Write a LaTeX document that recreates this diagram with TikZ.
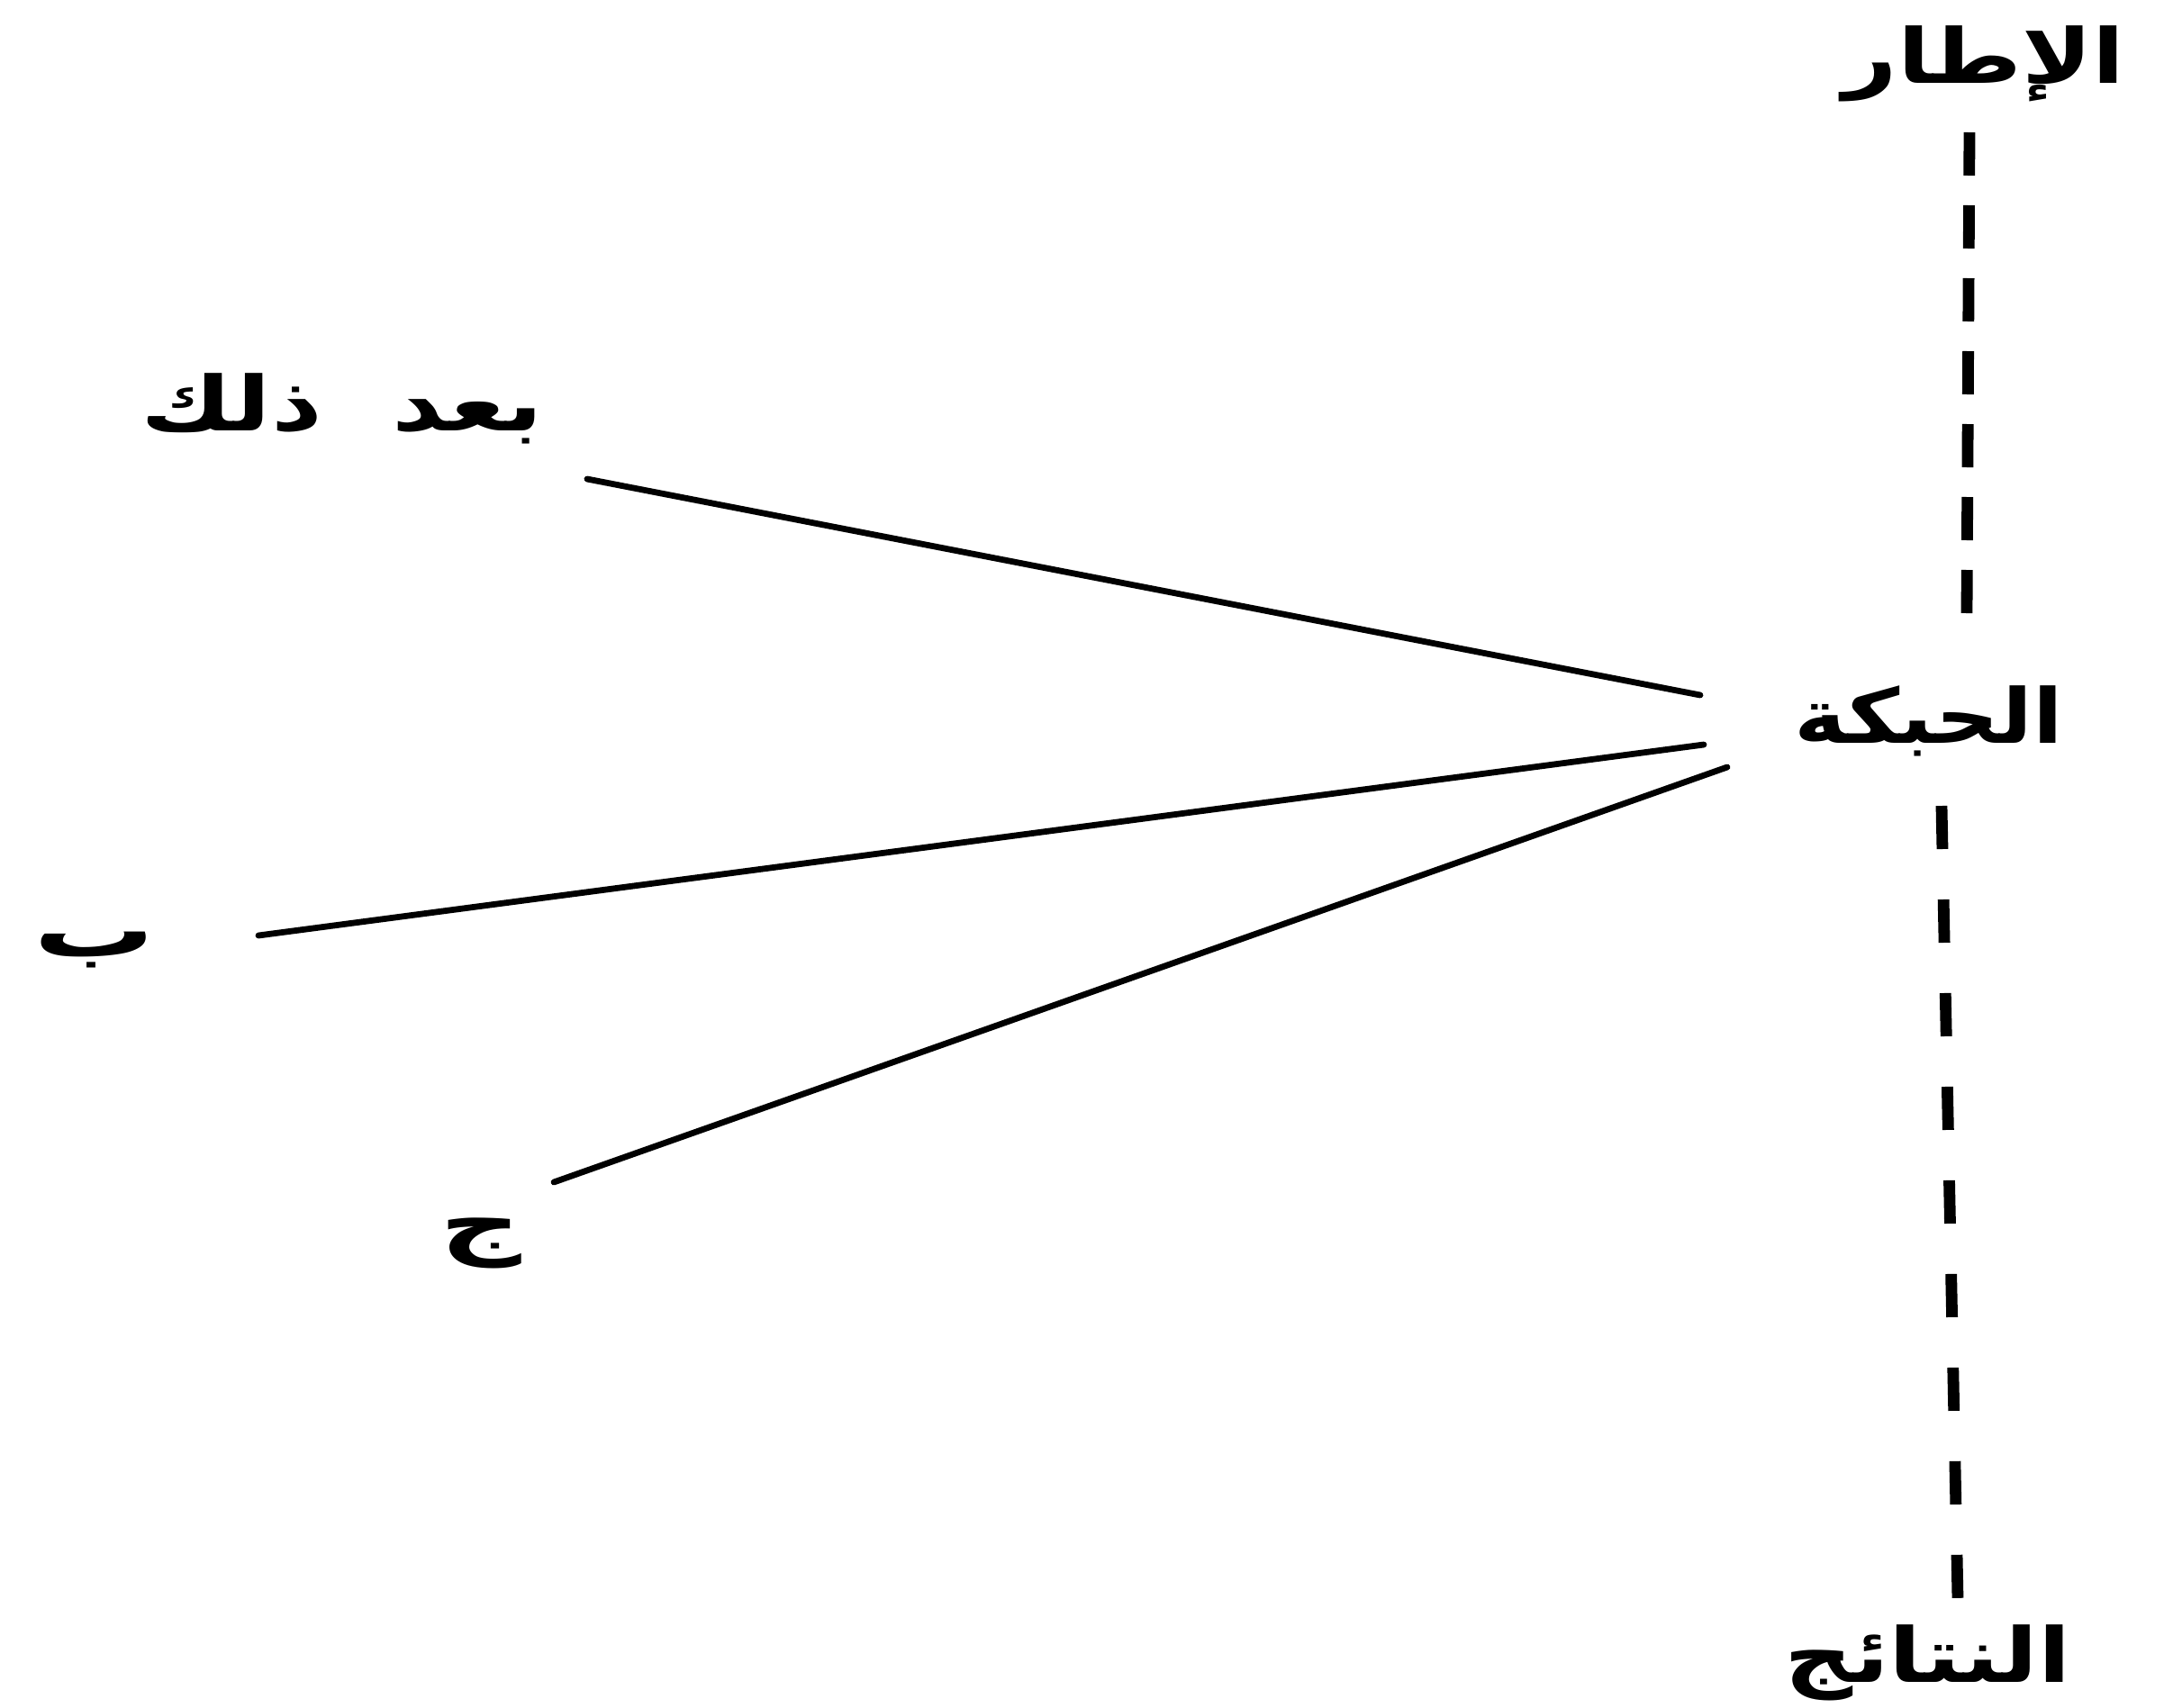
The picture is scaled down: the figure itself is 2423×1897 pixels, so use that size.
\documentclass[tikz,border=0pt]{standalone}
\usepackage{fontspec}
\newfontfamily\arabicfont[Script=Arabic]{DejaVu Sans}
\TeXXeTstate=1
\newcommand{\arlbl}[2]{\scalebox{#1}[1]{\beginR #2\endR}}
\begin{document}
\begin{tikzpicture}[x=0.25pt,y=-0.25pt,
  lbl/.style={inner sep=0pt, anchor=base, font=\arabicfont\bfseries\fontsize{21}{25}\selectfont},
  conn/.style={line width=1.7pt, line cap=round},
  dashtop/.style={line width=3.2pt, dash pattern=on 12pt off 8.25pt},
  dashbot/.style={line width=3.2pt, dash pattern=on 12pt off 14pt}]
\useasboundingbox (0,0) rectangle (2423,1897);
% labels
\node[lbl] (itar) at (2203,92) {\arlbl{1.25}{الإطار}};
\node[lbl] (baad) at (380,478) {\arlbl{1.32}{بعد\ \ ذلك}};
\node[lbl] (habka) at (2142,825) {\arlbl{1.17}{الحبكة}};
\node[lbl] (ba) at (105,1062) {\arlbl{1.6}{ب}};
\node[lbl] (jim) at (534,1388) {\arlbl{1.5}{ج}};
\node[lbl] (nataij) at (2141,1868) {\arlbl{1.26}{النتائج}};
% connector ends
\coordinate (s1) at (652,532);
\coordinate (e1) at (1888,772);
\coordinate (s2) at (287,1039);
\coordinate (e2) at (1892,827);
\coordinate (s3) at (615,1313);
\coordinate (e3) at (1918,852);
\coordinate (t1) at (2187,147);
\coordinate (t2) at (2184,681);
\coordinate (b1) at (2156,895);
\coordinate (b2) at (2174,1775);
% connectors
\draw[conn] (s1) -- (e1);
\draw[conn] (s2) -- (e2);
\draw[conn] (s3) -- (e3);
\draw[dashtop] (t1) -- (t2);
\draw[dashbot] (b1) -- (b2);
\end{tikzpicture}
\end{document}
